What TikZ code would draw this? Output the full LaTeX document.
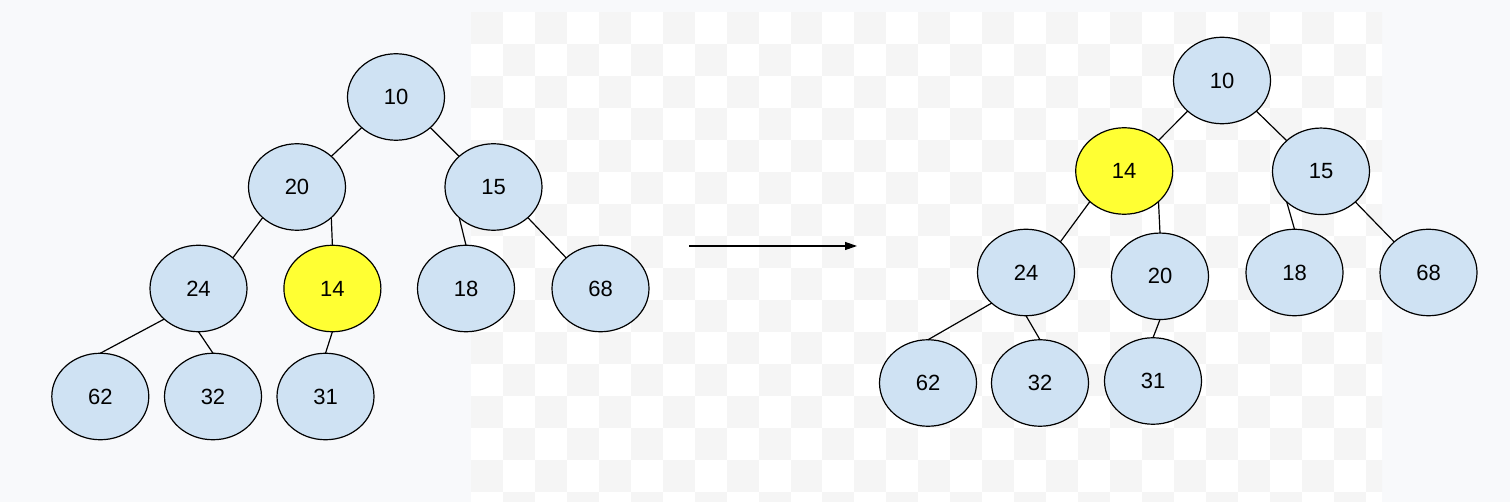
\documentclass[tikz,border=0pt]{standalone}
\usepackage{fontspec}
\setmainfont{Liberation Sans}
\usetikzlibrary{shapes.geometric,arrows.meta}
\definecolor{bgc}{RGB}{248,249,251}
\definecolor{chk}{RGB}{245,245,245}
\definecolor{nodeblue}{RGB}{207,226,243}
\definecolor{hl}{RGB}{255,255,51}
\begin{document}
\begin{tikzpicture}[x=1pt,y=-1pt,
  hn/.style={ellipse,draw=black,line width=1.2pt,fill=nodeblue,minimum width=97pt,minimum height=86.5pt,inner sep=0pt,outer sep=0pt,font=\fontsize{22}{24}\selectfont},
  hy/.style={hn,fill=hl},
  edge/.style={draw=black,line width=1.2pt}]
\useasboundingbox (0,0) rectangle (1510,502);
\fill[bgc] (0,0) rectangle (1510,502);
\begin{scope}
\clip (471,12.3) rectangle (1382,502);
\fill[white] (471,12.3) rectangle (1382,502);
\foreach \i in {0,...,28}{\foreach \j in {0,...,15}{%
  \pgfmathtruncatemacro{\pq}{mod(\i+\j,2)}%
  \ifnum\pq=0 \fill[chk] ({471+\i*31.95},{12.3+\j*31.95}) rectangle ++(31.95,31.95);\fi}}
\end{scope}
% left tree
\node[hn] (l10) at (396,97) {10};
\node[hn] (l20) at (297,187) {20};
\node[hn] (l15) at (493.5,187) {15};
\node[hn] (l24) at (198.5,288.5) {24};
\node[hy] (l14) at (332.4,288.5) {14};
\node[hn] (l18) at (466,288.5) {18};
\node[hn] (l68) at (600.5,288.5) {68};
\node[hn] (l62) at (100.3,396.5) {62};
\node[hn] (l32) at (213,396.5) {32};
\node[hn] (l31) at (325.5,396.5) {31};
\draw[edge] (l10.south west) -- (l20.north east);
\draw[edge] (l10.south east) -- (l15.north west);
\draw[edge] (l20.south west) -- (l24.north east);
\draw[edge] (l20.south east) -- (l14.north);
\draw[edge] (l15.south west) -- (l18.north);
\draw[edge] (l15.south east) -- (l68.north west);
\draw[edge] (l24.south west) -- (l62.north);
\draw[edge] (l24.south) -- (l32.north);
\draw[edge] (l14.south) -- (l31.north);
% arrow
\coordinate (a1) at (689,246);
\coordinate (a2) at (857,246);
\draw[line width=1.2pt,-{Triangle[length=12pt,width=8pt]}] (a1) -- (a2);
% right tree
\node[hn] (r10) at (1222,80.5) {10};
\node[hy] (r14) at (1124.2,171) {14};
\node[hn] (r15) at (1321,171.3) {15};
\node[hn] (r24) at (1026,272.5) {24};
\node[hn] (r20) at (1160,276.3) {20};
\node[hn] (r18) at (1294.5,272.5) {18};
\node[hn] (r68) at (1428.5,272.5) {68};
\node[hn] (r62) at (928,383) {62};
\node[hn] (r32) at (1040,383) {32};
\node[hn] (r31) at (1153,381) {31};
\draw[edge] (r10.south west) -- (r14.north east);
\draw[edge] (r10.south east) -- (r15.north west);
\draw[edge] (r14.south west) -- (r24.north east);
\draw[edge] (r14.south east) -- (r20.north);
\draw[edge] (r15.south west) -- (r18.north);
\draw[edge] (r15.south east) -- (r68.north west);
\draw[edge] (r24.south west) -- (r62.north);
\draw[edge] (r24.south) -- (r32.north);
\draw[edge] (r20.south) -- (r31.north);
\end{tikzpicture}
\end{document}
